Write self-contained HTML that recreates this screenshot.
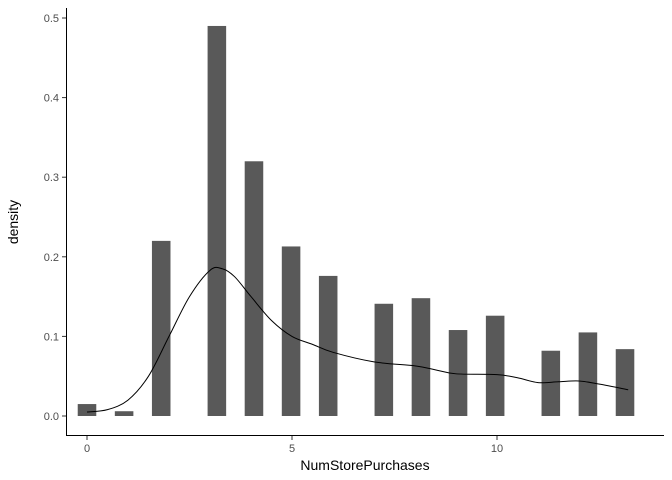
<!DOCTYPE html>
<html><head><meta charset="utf-8"><style>
body{margin:0;background:#fff;}
svg{display:block;font-family:"Liberation Sans",sans-serif;}
</style></head><body>
<svg id="chart" width="672" height="480" viewBox="0 0 672 480"></svg>
<script>
const binIndex=[0,2,4,7,9,11,13,16,18,20,22,25,27,29];
const binDensity=[0.015,0.006,0.22,0.49,0.32,0.213,0.176,0.141,0.148,0.108,0.126,0.082,0.105,0.084];
const binWidth=0.4525;
const curveX=[0,0.5,1,1.5,2,2.5,3,3.3,3.6,4,4.5,5,5.5,6,7,8,8.5,9,10,10.5,11,11.5,12,12.5,13.2];
const curveY=[0.005,0.008,0.02,0.05,0.1,0.15,0.183,0.185,0.175,0.15,0.12,0.1,0.09,0.08,0.068,0.063,0.058,0.053,0.052,0.048,0.042,0.043,0.044,0.04,0.033];
const xTicks=[0,5,10];
const yTicks=[0,0.1,0.2,0.3,0.4,0.5];
const yTickLabels=["0.0","0.1","0.2","0.3","0.4","0.5"];

const NS="http://www.w3.org/2000/svg";
const svg=document.getElementById('chart');
const xs=v=>87+v*41;
const ys=v=>416-v*796;
function mk(t,a){const e=document.createElementNS(NS,t);for(const k in a)e.setAttribute(k,a[k]);svg.appendChild(e);return e;}

binIndex.forEach((b,i)=>{
  const c=b*binWidth;
  const r=mk('rect',{x:xs(c-binWidth/2),y:ys(binDensity[i]),width:binWidth*41,height:ys(0)-ys(binDensity[i]),fill:'#595959'});
  
  
});
const P=curveX.map((x,i)=>[xs(x),ys(curveY[i])]);
let d='M'+P[0][0]+','+P[0][1];
for(let i=0;i<P.length-1;i++){
  const p0=P[Math.max(0,i-1)],p1=P[i],p2=P[i+1],p3=P[Math.min(P.length-1,i+2)];
  const c1=[p1[0]+(p2[0]-p0[0])/6,p1[1]+(p2[1]-p0[1])/6];
  const c2=[p2[0]-(p3[0]-p1[0])/6,p2[1]-(p3[1]-p1[1])/6];
  d+=' C'+c1.join(',')+' '+c2.join(',')+' '+p2.join(',');
}
const p=mk('path',{d:d,fill:'none',stroke:'#000','stroke-width':1});



const ya=mk('line',{x1:66.5,y1:8,x2:66.5,y2:435.5,stroke:'#000','stroke-width':1});


const xa=mk('line',{x1:66,y1:435.5,x2:664,y2:435.5,stroke:'#000','stroke-width':1});



yTicks.forEach((v,i)=>{
  const y=ys(v);
  const tk=mk('line',{x1:62,x2:66,y1:y,y2:y,stroke:'#333'});
  
  
  const t=mk('text',{x:59,y:y+4,'text-anchor':'end','font-size':11,fill:'#4d4d4d'});
  t.textContent=yTickLabels[i];
  
  
});
xTicks.forEach(v=>{
  const x=xs(v);
  const tk=mk('line',{x1:x,x2:x,y1:436,y2:440,stroke:'#333'});
  
  
  const t=mk('text',{x:x,y:452,'text-anchor':'middle','font-size':11,fill:'#4d4d4d'});
  t.textContent=String(v);
  
  
});
const xt=mk('text',{x:365,y:470,'text-anchor':'middle','font-size':14,fill:'#000'});
xt.textContent='NumStorePurchases';


const yt=mk('text',{x:0,y:0,'text-anchor':'middle','font-size':14,fill:'#000',transform:'translate(18,222) rotate(-90)'});
yt.textContent='density';


</script>
</body></html>
